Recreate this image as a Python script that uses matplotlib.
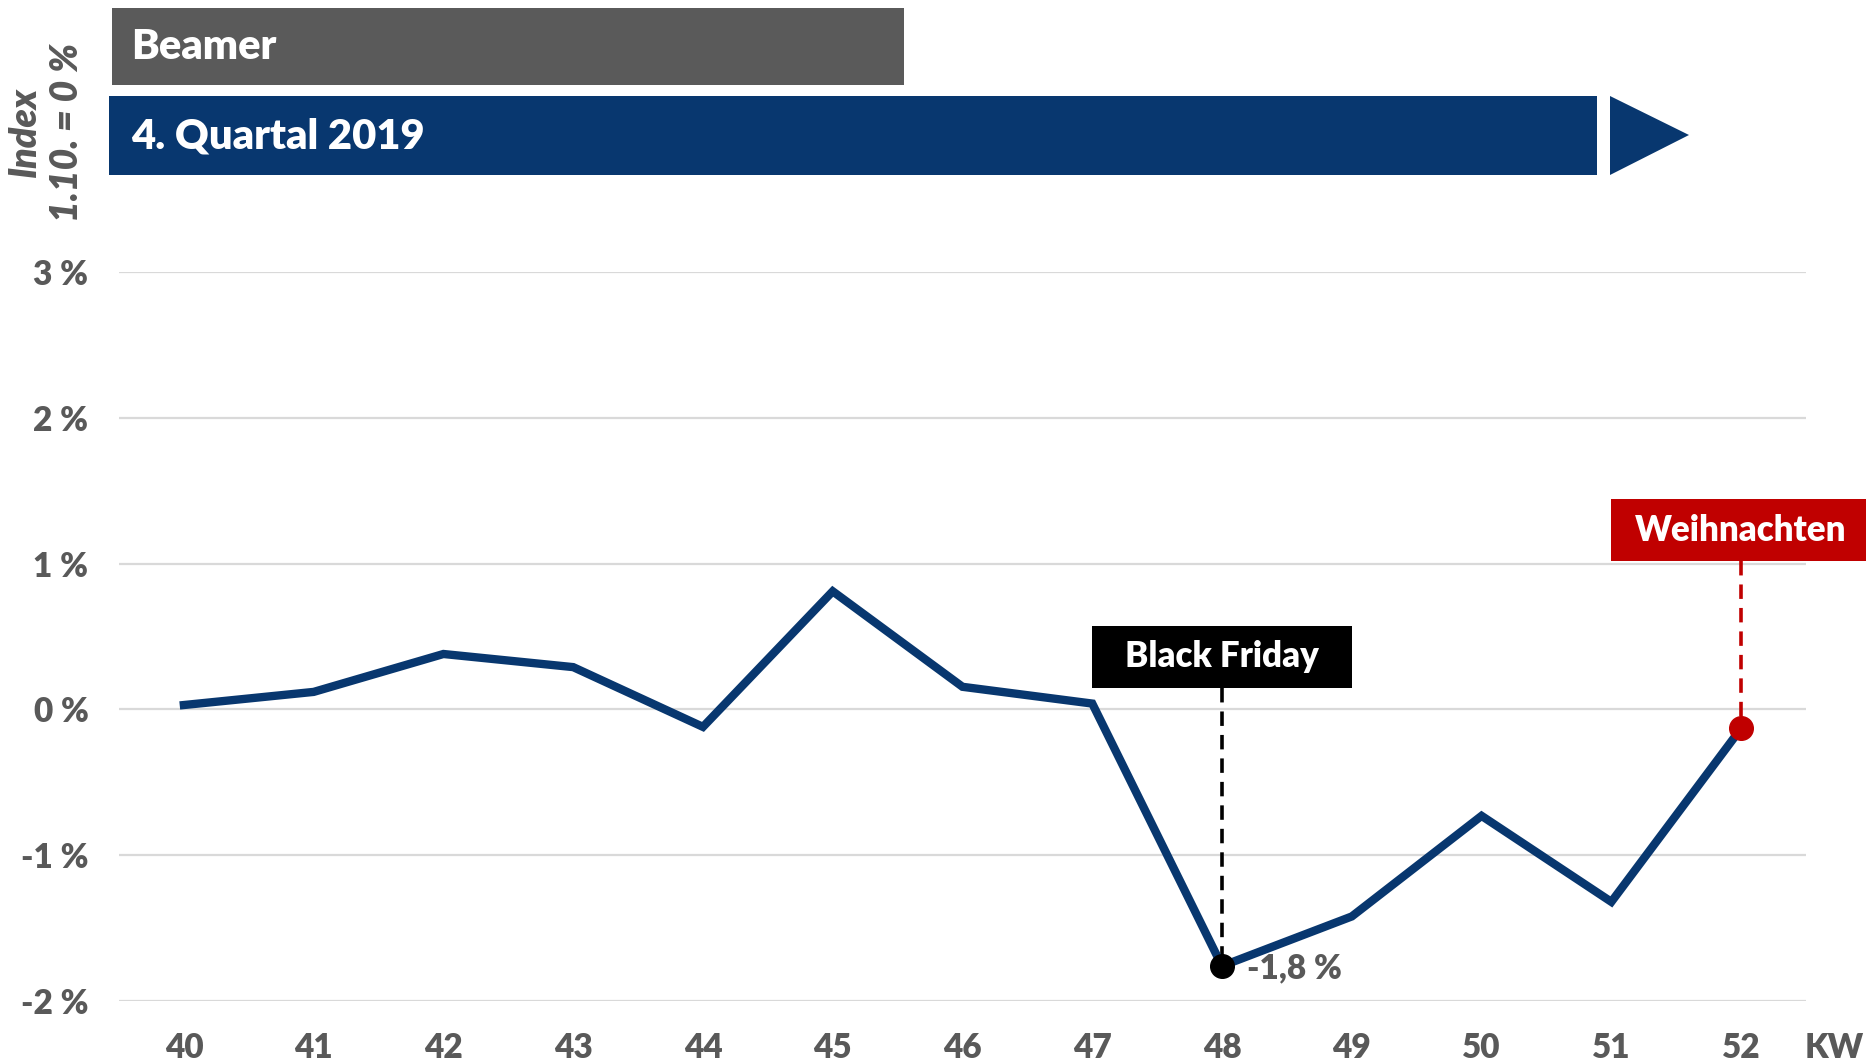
import matplotlib.pyplot as plt
from matplotlib.patches import Rectangle, Polygon

# Data: weekly index, 1.10. = 0 %
weeks = [40, 41, 42, 43, 44, 45, 46, 47, 48, 49, 50, 51, 52]
index_pct = [0.03, 0.12, 0.38, 0.29, -0.12, 0.81, 0.155, 0.04, -1.76, -1.42, -0.73, -1.32, -0.13]
y_ticks = [-2, -1, 0, 1, 2, 3]

black_friday_week = 48
christmas_week = 52

navy = '#08376f'
grey_text = '#595959'
red = '#c00000'
W8 = 'heavy'

plt.rcParams['font.family'] = ['Lato', 'DejaVu Sans']

W, H = 1866, 1063
fig = plt.figure(figsize=(W / 100, H / 100), dpi=100)
ax = fig.add_axes([119 / W, 62 / H, (1806 - 119) / W, (1001 - 272) / H])

# Grid and axes
ax.set_xlim(39.5, 52.5)
ax.set_ylim(-2, 3)
for v in y_ticks:
    ax.axhline(v, color='#d9d9d9', lw=1.6, zorder=0)
for s in ax.spines.values():
    s.set_visible(False)
ax.set_xticks(weeks)
ax.set_xticklabels([str(w) for w in weeks])
ax.set_yticks(y_ticks)
ax.set_yticklabels([f'{v} %' for v in y_ticks])
ax.tick_params(length=0, labelsize=24, labelcolor=grey_text, pad=22)
for lab in ax.get_xticklabels() + ax.get_yticklabels():
    lab.set_fontweight(W8)
ax.text(52.72, -2.21, 'KW', ha='center', va='top',
        fontsize=24, fontweight=W8, color=grey_text, clip_on=False)

# Main line
ax.plot(weeks, index_pct, color=navy, lw=6, solid_joinstyle='miter', zorder=3)

# Black Friday marker
i_bf = weeks.index(black_friday_week)
bf_val = index_pct[i_bf]
ax.add_patch(Rectangle((47.0, 0.15), 2.0, 0.42, facecolor='black', clip_on=False, zorder=4))
ax.text(48, 0.36, 'Black Friday', ha='center', va='center', color='white',
        fontsize=25, fontweight=W8, zorder=5)
ax.plot([48, 48], [0.15, bf_val], color='black', lw=2.6, dashes=(4, 2.5), zorder=2)
ax.plot(black_friday_week, bf_val, 'o', color='black', ms=17, zorder=6)
ax.annotate(f'{bf_val:.1f}'.replace('.', ',') + ' %', (black_friday_week, bf_val),
            xytext=(18, -2), textcoords='offset points', ha='left', va='center',
            fontsize=24, fontweight=W8, color=grey_text)

# Christmas marker
i_xm = weeks.index(christmas_week)
xm_val = index_pct[i_xm]
ax.add_patch(Rectangle((51.0, 1.02), 2.1, 0.42, facecolor=red, clip_on=False, zorder=4))
ax.text(52, 1.23, 'Weihnachten', ha='center', va='center', color='white',
        fontsize=25, fontweight=W8, zorder=5, clip_on=False)
ax.plot([52, 52], [1.02, xm_val], color=red, lw=2.6, dashes=(4, 2.5), zorder=2, clip_on=False)
ax.plot(christmas_week, xm_val, 'o', color=red, ms=17, zorder=6, clip_on=False)

# Header banners (figure pixels)
def fx(px):
    return px / W

def fy(py):
    return 1 - py / H

fig.add_artist(Rectangle((fx(112), fy(85)), fx(904) - fx(112), fy(8) - fy(85),
                         facecolor='#5a5a5a', transform=fig.transFigure))
fig.text(fx(131), fy(47), 'Beamer', color='white', fontsize=30, fontweight=W8,
         ha='left', va='center')

fig.add_artist(Rectangle((fx(109), fy(175)), fx(1597) - fx(109), fy(96) - fy(175),
                         facecolor=navy, transform=fig.transFigure))
fig.add_artist(Polygon([(fx(1610), fy(96)), (fx(1610), fy(175)), (fx(1689), fy(135))],
                       closed=True, facecolor=navy, transform=fig.transFigure))
fig.text(fx(131), fy(137), '4. Quartal 2019', color='white', fontsize=30, fontweight=W8,
         ha='left', va='center')

fig.text(fx(46), fy(132), 'Index\n1.10. = 0 %', rotation=90, ha='center', va='center',
         multialignment='center', linespacing=1.3, fontsize=27, fontweight=W8,
         style='italic', color=grey_text)

fig.savefig('out.png', dpi=100)
